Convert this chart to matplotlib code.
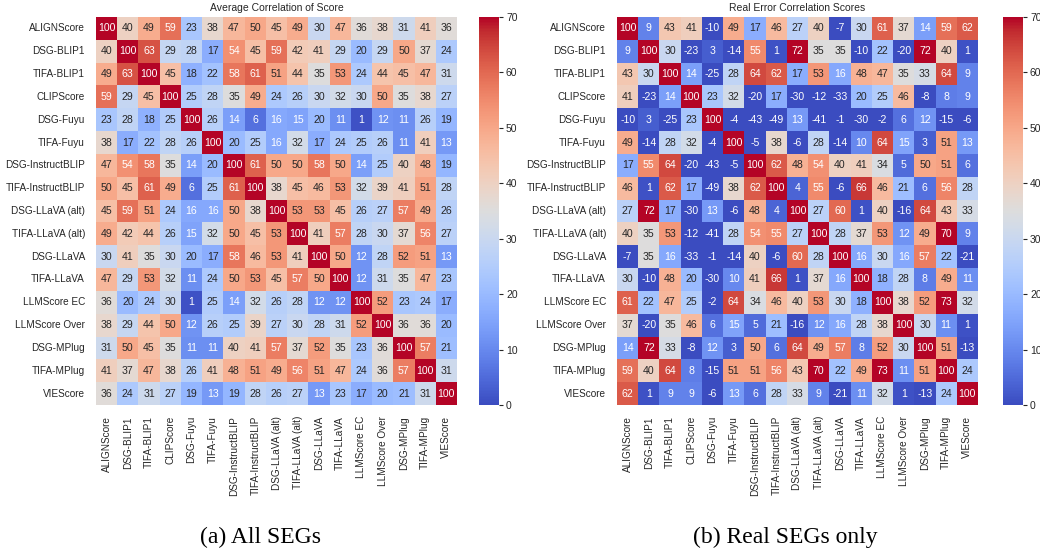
import numpy as np
import matplotlib
matplotlib.use("Agg")
import matplotlib.pyplot as plt
import seaborn as sns

labels = ["ALIGNScore", "DSG-BLIP1", "TIFA-BLIP1", "CLIPScore", "DSG-Fuyu",
          "TIFA-Fuyu", "DSG-InstructBLIP", "TIFA-InstructBLIP", "DSG-LLaVA (alt)",
          "TIFA-LLaVA (alt)", "DSG-LLaVA", "TIFA-LLaVA", "LLMScore EC",
          "LLMScore Over", "DSG-MPlug", "TIFA-MPlug", "VIEScore"]

# (a) average correlation of score, all SEGs
avg_corr = [
    [100, 40, 49, 59, 23, 38, 47, 50, 45, 49, 30, 47, 36, 38, 31, 41, 36],
    [40, 100, 63, 29, 28, 17, 54, 45, 59, 42, 41, 29, 20, 29, 50, 37, 24],
    [49, 63, 100, 45, 18, 22, 58, 61, 51, 44, 35, 53, 24, 44, 45, 47, 31],
    [59, 29, 45, 100, 25, 28, 35, 49, 24, 26, 30, 32, 30, 50, 35, 38, 27],
    [23, 28, 18, 25, 100, 26, 14, 6, 16, 15, 20, 11, 1, 12, 11, 26, 19],
    [38, 17, 22, 28, 26, 100, 20, 25, 16, 32, 17, 24, 25, 26, 11, 41, 13],
    [47, 54, 58, 35, 14, 20, 100, 61, 50, 50, 58, 50, 14, 25, 40, 48, 19],
    [50, 45, 61, 49, 6, 25, 61, 100, 38, 45, 46, 53, 32, 39, 41, 51, 28],
    [45, 59, 51, 24, 16, 16, 50, 38, 100, 53, 53, 45, 26, 27, 57, 49, 26],
    [49, 42, 44, 26, 15, 32, 50, 45, 53, 100, 41, 57, 28, 30, 37, 56, 27],
    [30, 41, 35, 30, 20, 17, 58, 46, 53, 41, 100, 50, 12, 28, 52, 51, 13],
    [47, 29, 53, 32, 11, 24, 50, 53, 45, 57, 50, 100, 12, 31, 35, 47, 23],
    [36, 20, 24, 30, 1, 25, 14, 32, 26, 28, 12, 12, 100, 52, 23, 24, 17],
    [38, 29, 44, 50, 12, 26, 25, 39, 27, 30, 28, 31, 52, 100, 36, 36, 20],
    [31, 50, 45, 35, 11, 11, 40, 41, 57, 37, 52, 35, 23, 36, 100, 57, 21],
    [41, 37, 47, 38, 26, 41, 48, 51, 49, 56, 51, 47, 24, 36, 57, 100, 31],
    [36, 24, 31, 27, 19, 13, 19, 28, 26, 27, 13, 23, 17, 20, 21, 31, 100],
]

# (b) real error correlation scores, real SEGs only
err_corr = [
    [100, 9, 43, 41, -10, 49, 17, 46, 27, 40, -7, 30, 61, 37, 14, 59, 62],
    [9, 100, 30, -23, 3, -14, 55, 1, 72, 35, 35, -10, 22, -20, 72, 40, 1],
    [43, 30, 100, 14, -25, 28, 64, 62, 17, 53, 16, 48, 47, 35, 33, 64, 9],
    [41, -23, 14, 100, 23, 32, -20, 17, -30, -12, -33, 20, 25, 46, -8, 8, 9],
    [-10, 3, -25, 23, 100, -4, -43, -49, 13, -41, -1, -30, -2, 6, 12, -15, -6],
    [49, -14, 28, 32, -4, 100, -5, 38, -6, 28, -14, 10, 64, 15, 3, 51, 13],
    [17, 55, 64, -20, -43, -5, 100, 62, 48, 54, 40, 41, 34, 5, 50, 51, 6],
    [46, 1, 62, 17, -49, 38, 62, 100, 4, 55, -6, 66, 46, 21, 6, 56, 28],
    [27, 72, 17, -30, 13, -6, 48, 4, 100, 27, 60, 1, 40, -16, 64, 43, 33],
    [40, 35, 53, -12, -41, 28, 54, 55, 27, 100, 28, 37, 53, 12, 49, 70, 9],
    [-7, 35, 16, -33, -1, -14, 40, -6, 60, 28, 100, 16, 30, 16, 57, 22, -21],
    [30, -10, 48, 20, -30, 10, 41, 66, 1, 37, 16, 100, 18, 28, 8, 49, 11],
    [61, 22, 47, 25, -2, 64, 34, 46, 40, 53, 30, 18, 100, 38, 52, 73, 32],
    [37, -20, 35, 46, 6, 15, 5, 21, -16, 12, 16, 28, 38, 100, 30, 11, 1],
    [14, 72, 33, -8, 12, 3, 50, 6, 64, 49, 57, 8, 52, 30, 100, 51, -13],
    [59, 40, 64, 8, -15, 51, 51, 56, 43, 70, 22, 49, 73, 11, 51, 100, 24],
    [62, 1, 9, 9, -6, 13, 6, 28, 33, 9, -21, 11, 32, 1, -13, 24, 100],
]

titles = ["Average Correlation of Score", "Real Error Correlation Scores"]
captions = ["(a) All SEGs", "(b) Real SEGs only"]

plt.rcParams["font.family"] = ["Liberation Sans", "DejaVu Sans"]

W, H = 1040, 554
fig = plt.figure(figsize=(W / 100, H / 100), dpi=100)


def px(x0, y0, x1, y1):
    # pixel box -> figure fraction rect
    return [x0 / W, 1 - y1 / H, (x1 - x0) / W, (y1 - y0) / H]


boxes = [(96, 17, 457, 405), (617, 17, 978, 405)]
cboxes = [(479, 17, 499, 405), (1003, 17, 1023, 405)]
cap_x = [261, 785]

for i, data in enumerate([avg_corr, err_corr]):
    ax = fig.add_axes(px(*boxes[i]))
    cax = fig.add_axes(px(*cboxes[i]))
    sns.heatmap(np.array(data), ax=ax, cbar_ax=cax, cmap="coolwarm",
                vmin=0, vmax=70, annot=True, fmt="d",
                annot_kws={"fontsize": 7.6},
                xticklabels=labels, yticklabels=labels)
    ax.set_title(titles[i], fontsize=7.5, color="#262626", pad=4)
    ax.tick_params(length=0, labelsize=7.2, colors="#262626", pad=8)
    ax.set_xticklabels(labels, rotation=90)
    ax.set_yticklabels(labels, rotation=0)
    cax.tick_params(labelsize=7.5, length=3, colors="#262626", pad=2)
    cax.set_yticks(range(0, 71, 10))
    fig.text(cap_x[i] / W, 1 - 537 / H, captions[i], ha="center", va="center",
             fontsize=17, family=["Liberation Serif", "DejaVu Serif"])

fig.savefig("out.png", dpi=100)
